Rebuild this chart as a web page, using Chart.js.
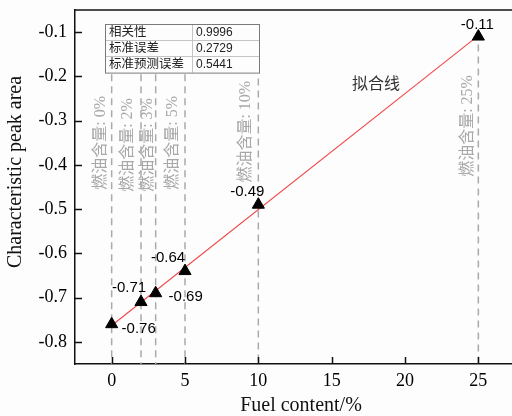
<!DOCTYPE html>
<html><head><meta charset="utf-8">
<script src="https://cdn.jsdelivr.net/npm/chart.js@4/dist/chart.umd.min.js"></script>
<style>
html,body{margin:0;padding:0;background:#fdfdfd;overflow:hidden;width:512px;height:416px}
#wrap{width:515px;height:416px;position:relative}
</style></head>
<body><div id="wrap"><canvas id="c"></canvas></div>
<script>
// ---- data ----
const fuelContent = [0, 2, 3, 5, 10, 25];
const peakArea = [-0.76, -0.71, -0.69, -0.64, -0.49, -0.11];
const fitX = [0, 25];
const fitY = [-0.763, -0.108];
const xTickValues = [0, 5, 10, 15, 20, 25];
const yTickValues = [-0.1, -0.2, -0.3, -0.4, -0.5, -0.6, -0.7, -0.8];
const guideLabels = ['燃油含量: 0%', '燃油含量: 2%', '燃油含量: 3%', '燃油含量: 5%', '燃油含量: 10%', '燃油含量: 25%'];
const guideTops = [-0.195, -0.195, -0.195, -0.195, -0.205, -0.128];
const statNames = ['相关性', '标准误差', '标准预测误差'];
const statValues = ['0.9996', '0.2729', '0.5441'];
const fitLabel = '拟合线';
const xTitle = 'Fuel content/%';
const yTitle = 'Characteristic peak area';

// ---- styles / placement ----
const valueLabelOffsets = [[27, 5], [-12, -14], [30, 4], [-17, -13], [-11, -13], [-1, -12]];
const guideLabelDx = [-11, -13, -8, -12, -13, -11];
const guideLabelStartY = [-0.456, -0.461, -0.461, -0.456, -0.44, -0.427];
const X_MIN = -2.5, X_MAX = 27.5, Y_MIN = -0.85, Y_MAX = -0.05;
const serif = '"Liberation Serif", "Noto Sans CJK SC", serif';
const sans = '"Liberation Sans", Arial, sans-serif';

const guideDatasets = fuelContent.map((x, i) => ({
  type: 'line',
  data: [{x: x, y: guideTops[i]}, {x: x, y: Y_MIN}],
  borderColor: '#aaaaaa', borderWidth: 1.5, borderDash: [7, 5],
  pointRadius: 0, fill: false, order: 3
}));

function zeroPad(s) { s.paddingTop = 0; s.paddingBottom = 0; s.paddingLeft = 0; s.paddingRight = 0; }

const overlay = {
  id: 'overlay',
  beforeDatasetsDraw(chart) {
    const ctx = chart.ctx, xs = chart.scales.x, ys = chart.scales.y;
    ctx.save();
    ctx.fillStyle = '#a8a8a8';
    ctx.font = '16px ' + serif;
    ctx.textAlign = 'left';
    ctx.textBaseline = 'middle';
    guideLabels.forEach((t, i) => {
      const px = xs.getPixelForValue(fuelContent[i]) + guideLabelDx[i];
      const py = ys.getPixelForValue(guideLabelStartY[i]);
      ctx.save();
      ctx.translate(px, py);
      ctx.rotate(-Math.PI / 2);
      ctx.fillText(t, 0, 0);
      ctx.restore();
    });
    ctx.restore();
  },
  afterDraw(chart) {
    const ctx = chart.ctx, xs = chart.scales.x, ys = chart.scales.y, a = chart.chartArea;
    ctx.save();
    // frame top line
    ctx.strokeStyle = '#111'; ctx.lineWidth = 1.5;
    ctx.beginPath(); ctx.moveTo(a.left, a.top); ctx.lineTo(a.right, a.top); ctx.stroke();
    // inward ticks
    ctx.lineWidth = 1.5;
    xTickValues.forEach(v => {
      const px = Math.round(xs.getPixelForValue(v)) + 0.5;
      ctx.beginPath(); ctx.moveTo(px, a.bottom); ctx.lineTo(px, a.bottom - 7); ctx.stroke();
    });
    yTickValues.forEach(v => {
      const py = Math.round(ys.getPixelForValue(v)) + 0.5;
      ctx.beginPath(); ctx.moveTo(a.left, py); ctx.lineTo(a.left + 7, py); ctx.stroke();
    });
    // value labels
    const meta = chart.getDatasetMeta(0);
    ctx.fillStyle = '#000';
    ctx.font = '15px ' + sans;
    ctx.textAlign = 'center'; ctx.textBaseline = 'middle';
    meta.data.forEach((pt, i) => {
      ctx.fillText(peakArea[i].toFixed(2), pt.x + valueLabelOffsets[i][0], pt.y + valueLabelOffsets[i][1]);
    });
    // fit label
    ctx.fillStyle = '#333';
    ctx.font = '16px ' + serif;
    ctx.fillText(fitLabel, 376, 85);
    // stats table
    const tx = 105, ty = 24, rowH = 16.2, colX = 192, tw = 154;
    ctx.fillStyle = '#fdfdfd';
    ctx.fillRect(tx, ty, tw, rowH * 3);
    ctx.strokeStyle = '#c4c4c4'; ctx.lineWidth = 1;
    for (let r = 1; r < 3; r++) {
      const yy = Math.round(ty + r * rowH) + 0.5;
      ctx.beginPath(); ctx.moveTo(tx, yy); ctx.lineTo(tx + tw, yy); ctx.stroke();
    }
    ctx.beginPath(); ctx.moveTo(colX + 0.5, ty); ctx.lineTo(colX + 0.5, ty + rowH * 3); ctx.stroke();
    ctx.strokeStyle = '#7a7a7a';
    ctx.strokeRect(tx + 0.5, ty + 0.5, tw, rowH * 3);
    ctx.textAlign = 'left'; ctx.textBaseline = 'middle';
    statNames.forEach((n, r) => {
      const cy = ty + rowH * r + rowH / 2 + 0.5;
      ctx.fillStyle = '#222';
      ctx.font = '12.5px ' + serif;
      ctx.fillText(n, tx + 4, cy);
      ctx.font = '12px ' + sans;
      ctx.fillText(statValues[r], colX + 4, cy);
    });
    // axis titles
    ctx.fillStyle = '#111';
    ctx.font = '20px ' + serif;
    ctx.textAlign = 'center'; ctx.textBaseline = 'middle';
    ctx.fillText(xTitle, 301, 406);
    ctx.save();
    ctx.translate(16, 172);
    ctx.rotate(-Math.PI / 2);
    ctx.fillText(yTitle, 0, 0);
    ctx.restore();
    ctx.restore();
  }
};

new Chart(document.getElementById('c'), {
  type: 'scatter',
  data: {
    datasets: [
      {
        data: fuelContent.map((x, i) => ({x: x, y: peakArea[i]})),
        pointStyle: 'triangle', pointRadius: 7, pointHoverRadius: 7,
        backgroundColor: '#000', borderColor: '#000', borderWidth: 1,
        showLine: false, order: 1
      },
      {
        type: 'line',
        data: fitX.map((x, i) => ({x: x, y: fitY[i]})),
        borderColor: 'rgb(240,70,70)', borderWidth: 1.1,
        pointRadius: 0, fill: false, order: 2
      },
      ...guideDatasets
    ]
  },
  options: {
    responsive: true, maintainAspectRatio: false, animation: false,
    layout: {autoPadding: false, padding: {top: 10, right: 0, left: 0, bottom: 0}},
    plugins: {legend: {display: false}, tooltip: {enabled: false}},
    scales: {
      x: {
        type: 'linear', min: X_MIN, max: X_MAX,
        afterBuildTicks: s => { s.ticks = xTickValues.map(v => ({value: v})); },
        afterFit: s => { s.height = 52; zeroPad(s); },
        ticks: {color: '#000', font: {family: serif, size: 18}, padding: 6, callback: v => String(v)},
        grid: {display: true, drawOnChartArea: false, drawTicks: false},
        border: {display: true, color: '#111', width: 1.5}
      },
      y: {
        type: 'linear', min: Y_MIN, max: Y_MAX,
        afterBuildTicks: s => { s.ticks = yTickValues.map(v => ({value: v})); },
        afterFit: s => { s.width = 75; zeroPad(s); },
        ticks: {color: '#000', font: {family: serif, size: 18}, padding: 8, callback: v => Number(v).toFixed(1)},
        grid: {display: true, drawOnChartArea: false, drawTicks: false},
        border: {display: true, color: '#111', width: 1.5}
      }
    }
  },
  plugins: [overlay]
});
</script>
</body></html>
